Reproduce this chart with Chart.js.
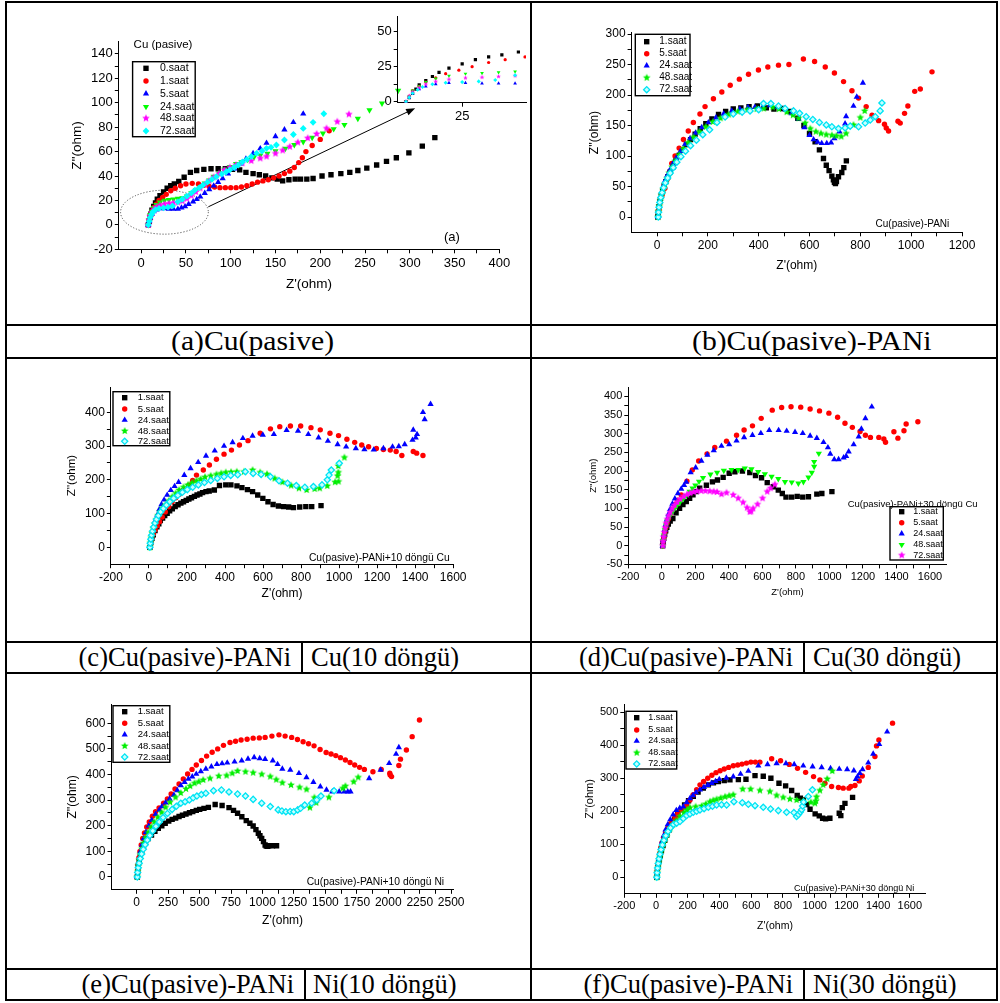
<!DOCTYPE html>
<html lang="tr">
<head>
<meta charset="UTF-8">
<title>Nyquist diyagramları</title>
<script src="https://cdn.jsdelivr.net/npm/chart.js"></script>
<style>
    body { margin: 0; width: 1000px; height: 1003px; position: relative; overflow: hidden; background: #fff; }
    canvas { position: absolute; }
    .ln { position: absolute; background: #000; z-index: 5; }
    .cap { position: absolute; font-family: "Liberation Serif", "Times New Roman", serif; font-size: 26.5px;
           white-space: nowrap; color: #000; z-index: 6; }
    .r1 { top: 326px; height: 31px; line-height: 31px; transform: scaleX(1.12); transform-origin: left center; }
    .r2 { top: 643px; height: 29px; line-height: 29px; }
    .r3 { top: 970px; height: 29px; line-height: 29px; }
    .ra { text-align: right; left: 0; }
</style>
</head>
<body>
<!-- table lines -->
<div class="ln" style="left:5px;top:1px;width:2px;height:1000px"></div>
<div class="ln" style="left:530px;top:1px;width:2px;height:1000px"></div>
<div class="ln" style="left:996px;top:1px;width:2px;height:1000px"></div>
<div class="ln" style="left:5px;top:1px;width:993px;height:2px"></div>
<div class="ln" style="left:5px;top:324px;width:993px;height:2px"></div>
<div class="ln" style="left:5px;top:357px;width:993px;height:2px"></div>
<div class="ln" style="left:5px;top:641px;width:993px;height:2px"></div>
<div class="ln" style="left:5px;top:672px;width:993px;height:2px"></div>
<div class="ln" style="left:5px;top:968px;width:993px;height:2px"></div>
<div class="ln" style="left:5px;top:999px;width:993px;height:2px"></div>
<div class="ln" style="left:301px;top:641px;width:2px;height:33px"></div>
<div class="ln" style="left:803px;top:641px;width:2px;height:33px"></div>
<div class="ln" style="left:304px;top:968px;width:2px;height:33px"></div>
<div class="ln" style="left:803px;top:968px;width:2px;height:33px"></div>

<!-- captions -->
<div class="cap r1" style="left:171px">(a)Cu(pasive)</div>
<div class="cap r1" style="left:692px">(b)Cu(pasive)-PANi</div>
<div class="cap r2 ra" style="width:291px">(c)Cu(pasive)-PANi</div>
<div class="cap r2" style="left:311px">Cu(10 döngü)</div>
<div class="cap r2 ra" style="width:793px">(d)Cu(pasive)-PANi</div>
<div class="cap r2" style="left:813px">Cu(30 döngü)</div>
<div class="cap r3 ra" style="width:294px">(e)Cu(pasive)-PANi</div>
<div class="cap r3" style="left:313px">Ni(10 döngü)</div>
<div class="cap r3 ra" style="width:793px">(f)Cu(pasive)-PANi</div>
<div class="cap r3" style="left:813px">Ni(30 döngü)</div>

<script>
// ---- data: [Z'(ohm), Z''(ohm)] ----
// (a) Cu (pasive)
const A_0 = [[8,0],[9,3],[10,6],[11,9],[12,12],[14,15],[16,18],[18,21],[21,24],[25,27],[29,30],[33,32],[37,33.5],[42,35.5],[48,39],[55,43],[62,44.5],[70,45.5],[78,46],[86,46],[94,46],[102,45.5],[110,45],[117,43],[125,42],[132,41],[139,40],[146,38.5],[152,37.5],[158,36],[165,37],[172,37.5],[178,37.5],[185,37.5],[192,38],[202,40],[212,41],[223,42],[233,43],[242,44.5],[252,46.5],[263,49],[274,52],[285,55],[299,59],[314,64.5],[328,71.5]];
const A_1 = [[8,0],[9,4],[10,8],[12,11],[14,14],[17,17],[20,20],[24,22.5],[28,25],[33,28],[38,30],[44,32],[50,33.5],[57,34],[64,33.5],[70,32.5],[76,31.5],[82,31],[88,30.5],[94,30.5],[100,30.5],[106,30.5],[112,31],[118,32],[124,33.5],[130,35],[136,36],[142,37],[148,38.5],[154,40],[160,42],[166,44],[171,47],[176,51],[180,55],[184,60],[191,65],[200,70],[210,77]];
const A_5 = [[8,0],[9,3],[10,6],[12,9],[14,11],[17,12.5],[21,13.5],[26,13.5],[31,13],[36,13],[41,13],[45,14],[49,15],[53,17],[58,19],[62,21],[66,23],[71,26],[76,29],[81,32],[86,35],[91,38],[97,42],[104,46],[111,50],[117,54],[125,58.5],[133,62.5],[140,67],[150,72.5],[160,78],[170,84],[181,91]];
const A_24 = [[8,0],[9,4],[10,8],[12,11],[14,14],[17,16.5],[21,18.5],[26,20],[31,20.5],[36,21],[41,21.5],[46,22],[51,23.5],[56,26],[61,28.5],[66,31],[71,34],[76,36.5],[81,39.5],[87,42.5],[93,45.5],[99,47.5],[106,50],[112,51.5],[119,53.5],[126,55.5],[133,57],[141,58.5],[150,60.5],[161,62.5],[171,65.5],[181,68],[191,71.5],[203,75],[215,78.5],[227,82],[242,87],[255,94],[269,99.5],[287,110]];
const A_48 = [[8,0],[9,4],[10,7],[12,10],[14,12.5],[17,14.5],[21,16],[26,17],[31,17.5],[36,18],[41,18.5],[46,19.5],[51,21.5],[56,24],[61,27],[66,30],[71,33],[76,36],[81,39],[87,42],[93,45],[99,47],[106,49],[113,50.5],[123,52.5],[133,54.5],[140,56],[150,58.5],[158,61],[166,64],[175,67.5],[186,71],[196,74.5],[207,79],[219,84.5],[232,90.5]];
const A_72 = [[8,0],[9,3],[10,6],[11.5,8.5],[13,10.5],[16,12.5],[20,13.5],[25,14],[30,14.5],[35,15.5],[41,18.9],[46,21],[51,23.5],[56,26],[60,28.5],[65,30.5],[69,32.6],[74,35],[79,37.2],[84,39.5],[90,41.6],[95,43.5],[99,45],[104,47],[108.5,49],[113,51.5],[118,53.6],[123,56],[129,58.6],[135,60.5],[140,62.7],[145,63.5],[151,65.4],[160,69.5],[170,74],[181,79],[192,84],[204,91]];

// (b) Cu(pasive)-PANi
const B_1 = [[3,0],[5,8],[8,17],[12,26],[17,35],[22,43],[28,51],[35,58],[43,66],[52,74],[62,82],[74,92],[87,101],[101,110],[116,119],[132,127],[150,136],[170,145],[192,153],[216,161],[242,168],[270,173],[300,177],[330,179],[362,181],[395,182],[430,179],[460,177],[495,178],[525,173],[554,162],[578,150],[600,137],[622,123.5],[639,110],[655,96],[666,85],[677,76],[688,67],[694,61],[698,57],[702,55],[706,58],[714,66],[727,73],[735,81],[745,92]];
const B_5 = [[5,0],[8,12],[13,24],[20,36],[31,47],[40,62],[49,74],[58,88],[71,100],[87,113],[104,127],[123,141],[143,155],[169,169],[189,181],[222,194],[255,205],[288,216],[324,226],[360,234],[399,241],[436,246],[478,249],[519,250],[576,259],[620,255],[662,246],[698,236],[734,222],[767,207],[793,195],[823,181],[846,167],[872,158],[895,152],[902,146],[911,141],[948,157],[957,154],[974,170],[987,182],[1014,206],[1036,210],[1082,238]];
const B_24 = [[4,0],[6,10],[9,20],[13,30],[18,40],[24,50],[31,59],[40,68],[50,77],[62,87],[76,97],[92,108],[110,119],[130,129],[152,138],[176,147],[202,155],[232,163],[262,169],[294,174],[326,177],[358,180],[385,180],[415,180],[445,183],[475,180],[505,176],[530,170],[557,161],[580,147],[600,134],[616,127],[632,123],[648,121],[668,121],[685,122],[698,129],[718,140],[740,153],[744,165],[773,182],[786,197],[810,220]];
const B_48 = [[4,0],[6,9],[9,18],[13,27],[18,36],[24,45],[31,54],[39,63],[48,72],[59,82],[72,92],[87,102],[104,112],[123,122],[144,131],[167,140],[192,148],[220,156],[250,162],[282,168],[318,173],[356,176],[392,177],[420,178],[455,180],[480,177],[510,172],[535,167],[557,162],[583,154],[603,145],[625,140],[645,137],[666,135],[688,134],[706,133],[725,132],[744,137],[773,151],[800,163],[817,174]];
const B_72 = [[5,0],[6,8],[8,16],[11,24],[15,32],[20,40],[26,48],[33,56],[42,64],[52,72],[64,81],[78,90],[94,99],[112,108],[132,117],[155,126],[180,135],[207,143],[236,155],[268,164],[300,169],[335,172],[366,174],[400,176],[419,186],[448,186],[478,182],[504,178],[537,174],[561,170],[587,164.5],[613,160],[639,155],[666,151],[688,148],[714,145],[740,146],[760,149],[793,148],[819,154],[839,159],[859,164.5],[878,174],[885,187]];

// (c) Cu(pasive)-PANi + 10 döngü Cu
const C_1 = [[5,0],[10,14],[16,27],[23,37],[32,50],[42,61],[52,70],[60,79],[72,87],[83,94],[96,101],[109,108],[123,114],[138,121],[153,126],[168,131],[182,135],[196,139],[210,143],[224,147],[239,151],[253,155],[268,158],[282,162],[300,165],[317,167],[344,170],[371,183],[404,185],[431,185],[463,182],[489,177],[518,171],[545,165],[572,155],[599,145],[626,135],[653,127],[681,122.5],[708,120.5],[735,119.5],[760,117.5],[793,119.5],[825,120.5],[856,120.5],[905,123.5]];
const C_5 = [[5,0],[10,14],[16,28],[24,40],[33,52],[44,64],[56,76],[70,90],[86,105],[104,120],[122,135],[141,147],[160,157],[182,170],[210,184],[230,198],[250,214],[286,229],[318,244],[355,261],[395,276],[434,288],[476,303],[521,316],[585,338],[639,351],[688,357.5],[744,359.5],[798,359.5],[852,354.6],[901,348],[952,338],[997,331],[1041,320],[1082,311],[1119,303],[1155,298],[1196,293],[1233,290],[1269,288],[1300,284],[1330,272],[1390,284],[1408,279],[1441,272]];
const C_24 = [[5,0],[9,16],[14,32],[20,48],[27,64],[35,80],[44,96],[54,112],[66,127],[80,141],[96,155],[115,169],[135,181],[156,193],[186,214],[219,234],[259,252],[300,271],[346,286],[395,300],[440,311],[494,323],[545,330],[599,333],[657,335],[724,347],[784,345],[838,335],[892,325],[941,315],[992,305],[1037,298],[1088,293],[1133,290],[1182,289],[1233,293],[1281,298],[1314,299],[1345,305],[1386,318],[1390,348],[1403,325],[1410,335],[1441,400],[1450,379],[1481,424]];
const C_48 = [[5,0],[8,14],[12,28],[17,42],[23,56],[30,69],[38,82],[47,94],[58,105],[71,116],[87,126],[105,138],[123,150],[141,160],[159,170],[182,178],[205,185],[227,191],[250,197],[272,202],[295,208],[325,212],[355,216],[380,219],[404,222],[432,223],[462,224],[500,224],[545,229],[585,222],[621,217],[661,204],[702,193],[748,183],[789,175],[829,170],[871,173],[898,175],[938,182],[979,193],[992,212],[997,195],[996,222],[996,241],[1028,266]];
const C_72 = [[5,0],[7,12],[10,24],[14,36],[19,48],[25,60],[32,72],[40,83],[50,94],[62,105],[76,115],[92,125],[110,135],[130,145],[152,154],[176,163],[202,171],[230,178],[260,185],[292,192],[325,198],[360,204],[395,209],[430,213],[467,215],[507,224],[548,219],[590,216],[639,209],[684,197],[729,190],[775,183],[820,178],[865,180],[910,185],[938,200],[947,214],[959,229],[1001,249]];

// (d) Cu(pasive)-PANi + 30 döngü Cu
const D_1 = [[5,0],[8,10],[12,20],[17,30],[23,40],[30,49],[39,58],[50,66],[66,73],[85,88],[106,100],[126,110],[146,118],[166,127],[186,136],[206,145],[226,154],[266,162],[302,171],[332,176],[366,183],[402,194],[436,198],[481,200],[525,196],[559,188],[595,182],[629,169],[665,158],[695,149],[719,140],[741,130],[775,130],[808,132],[841,130],[875,131],[925,138],[955,140],[1015,145]];
const D_5 = [[5,0],[8,12],[12,24],[17,36],[23,48],[30,60],[39,72],[50,85],[63,98],[78,110],[96,122],[116,136],[150,173],[182,203],[220,227],[270,246],[316,263],[386,280],[446,296],[491,310],[541,321],[593,341],[659,363],[715,370],[771,372],[829,371],[885,366],[941,361],[997,355],[1049,344],[1093,328],[1137,317],[1183,306],[1215,296],[1245,290],[1295,290],[1325,286],[1335,277],[1385,305],[1409,288],[1445,308],[1458,326],[1528,332]];
const D_24 = [[5,0],[8,14],[12,28],[17,42],[23,56],[30,70],[39,84],[50,98],[63,112],[78,126],[96,140],[116,152],[133,162],[146,171],[172,196],[202,209],[236,227],[272,243],[310,255],[356,267],[402,271],[446,281],[491,290],[541,296],[591,301],[641,309],[697,309],[745,307],[795,304],[841,301],[885,294],[925,288],[965,277],[991,263],[1005,246],[1029,231],[1055,231],[1085,236],[1100,240],[1115,252],[1145,271],[1175,292],[1191,313],[1215,341],[1253,372]];
const D_48 = [[5,0],[8,14],[12,28],[18,42],[25,55],[34,67],[45,78],[58,88],[72,97],[88,106],[106,115],[126,124],[146,134],[166,145],[183,154],[200,162],[222,172],[246,182],[290,191],[330,196],[370,201],[416,203],[456,203],[495,207],[535,205],[575,198],[615,192],[655,185],[695,179],[735,171],[775,170],[815,167],[845,171],[875,183],[895,196],[909,212],[909,225],[937,247]];
const D_72 = [[6,0],[8,12],[11,24],[15,36],[20,48],[26,60],[33,71],[41,81],[50,90],[62,100],[76,109],[92,117],[110,125],[130,132],[150,137],[170,141],[190,144],[210,146],[235,147],[260,147],[286,146],[310,145],[330,144],[356,138],[386,142],[426,136],[456,127],[485,116],[509,102],[525,91],[533,92],[545,100],[571,111],[601,127],[629,145],[649,154],[675,164]];

// (e) Cu(pasive)-PANi + 10 döngü Ni
const E_1 = [[5,0],[8,20],[13,40],[20,60],[29,80],[40,100],[54,120],[70,136],[92,150],[118,164],[145,178],[172,190],[200,200],[227,210],[255,218],[282,225],[310,230],[337,236],[364,241],[392,246],[420,251],[446,255],[474,260],[501,264],[535,268],[570,272],[624,283],[679,279],[734,271],[770,260],[802,249],[836,235],[871,220],[900,210],[926,199],[948,185],[967,171],[980,161],[994,151],[1008,138],[1021,125],[1030,121],[1040,120],[1049,122],[1080,122],[1112,122]];
const E_5 = [[5,0],[8,25],[12,50],[18,75],[26,100],[36,125],[48,150],[62,172],[80,195],[100,215],[125,237],[150,255],[178,270],[214,288],[244,305],[274,324],[305,344],[337,363],[371,383],[405,402],[440,420],[474,437],[515,455],[556,472],[600,487],[644,500],[690,514],[742,525],[786,530],[830,535],[878,538],[926,542],[975,543],[1021,545],[1075,550],[1131,555],[1180,550],[1232,545],[1278,537],[1323,528],[1366,520],[1410,512],[1458,498],[1506,486],[1545,480],[1583,474],[1620,466],[1659,457],[1696,447],[1733,437],[1772,428],[1810,420],[1878,411],[1944,420],[2012,405],[2015,398],[2026,392],[2084,435],[2097,460],[2144,496],[2190,548],[2248,613]];
const E_24 = [[5,0],[9,25],[14,50],[21,75],[30,100],[42,125],[56,150],[74,175],[96,200],[120,222],[150,245],[180,262],[200,275],[230,290],[262,305],[296,320],[323,338],[351,357],[381,370],[411,383],[442,392],[474,402],[510,412],[550,422],[594,431],[638,440],[679,443],[720,446],[778,450],[835,454],[885,461],[934,467],[978,463],[1021,460],[1082,454],[1120,440],[1158,422],[1221,418],[1290,405],[1350,389],[1405,370],[1460,353],[1509,340],[1555,333],[1610,333],[1650,333],[1678,333],[1700,333],[1848,385],[1939,418],[2007,444],[2062,480],[2084,506]];
const E_48 = [[5,0],[9,22],[14,44],[21,66],[30,88],[41,110],[55,132],[72,153],[92,174],[115,195],[140,215],[168,233],[198,252],[230,272],[265,292],[309,311],[350,328],[392,344],[425,355],[460,366],[494,372],[529,379],[583,385],[652,394],[715,396],[760,405],[802,414],[865,411],[926,407],[994,401],[1062,392],[1110,380],[1158,368],[1227,359],[1295,350],[1350,342],[1377,271],[1413,310],[1427,290],[1528,311],[1638,346],[1659,355],[1725,372],[1761,389]];
const E_72 = [[5,0],[8,18],[13,36],[20,54],[29,72],[40,90],[53,108],[68,126],[85,144],[105,162],[128,180],[153,198],[180,215],[210,232],[245,248],[282,264],[316,276],[351,288],[385,294],[419,301],[449,309],[479,316],[515,322],[550,327],[611,337],[674,340],[734,332],[802,324],[865,316],[926,303],[994,288],[1062,275],[1125,262],[1155,258],[1186,255],[1220,256],[1249,255],[1280,262],[1303,268],[1336,281],[1391,288],[1432,301],[1465,316],[1569,337]];

// (f) Cu(pasive)-PANi + 30 döngü Ni
const F_1 = [[5,0],[8,16],[13,32],[19,48],[26,64],[34,80],[44,96],[55,112],[68,128],[83,144],[99,160],[117,175],[137,190],[158,205],[180,219],[205,232],[235,245],[265,258],[298,270],[330,280],[362,286],[393,290],[430,293],[466,295],[519,296],[567,297],[624,308],[676,306],[724,300],[775,285],[817,277],[855,263],[890,248],[910,240],[928,234],[950,220],[971,206],[1003,192],[1029,186],[1050,179],[1069,177],[1096,179],[1155,194],[1165,187],[1174,211],[1191,224],[1239,242]];
const F_5 = [[5,0],[8,18],[12,36],[17,54],[23,72],[30,90],[38,105],[48,120],[60,135],[75,150],[90,162],[105,169],[120,181],[137,192],[160,205],[180,213],[193,219],[214,234],[235,250],[256,265],[277,280],[300,290],[326,300],[352,309],[378,317],[404,323],[430,328],[458,333],[487,338],[515,340],[542,343],[570,346],[598,349],[626,349],[655,349],[729,359],[785,353],[840,342],[892,330],[943,318],[993,305],[1033,295],[1065,285],[1107,275],[1150,272],[1180,270],[1216,270],[1228,275],[1254,278],[1281,292],[1300,307],[1338,333],[1380,366],[1390,398],[1405,416],[1491,467]];
const F_24 = [[5,0],[8,18],[12,36],[17,54],[23,72],[30,90],[38,108],[48,126],[60,144],[74,160],[90,175],[108,190],[128,203],[150,210],[172,214],[193,227],[214,239],[233,248],[252,257],[277,265],[302,273],[326,279],[351,285],[375,291],[399,297],[443,301],[487,305],[533,313],[582,322],[645,338],[703,342],[760,345],[819,345],[871,342],[928,338],[987,335],[1044,333],[1100,330],[1155,328],[1205,327],[1247,323],[1260,297],[1270,305],[1285,315],[1302,327],[1338,347],[1369,374],[1407,403],[1457,441]];
const F_48 = [[5,0],[8,15],[12,30],[17,45],[23,60],[30,75],[38,90],[48,105],[60,120],[74,135],[90,148],[108,160],[128,172],[150,185],[176,196],[195,204],[214,211],[250,214],[288,216],[314,222],[340,229],[361,233],[382,236],[408,240],[435,244],[461,247],[487,250],[546,267],[596,267],[655,263],[718,260],[760,248],[802,242],[844,237],[886,234],[928,231],[976,227],[1002,224],[1008,231],[1012,244],[1033,263],[1054,280],[1079,298],[1111,322]];
const F_72 = [[5,0],[7,14],[10,28],[14,42],[19,56],[25,70],[32,84],[40,98],[50,112],[62,126],[76,139],[92,150],[110,160],[130,164],[151,169],[172,178],[193,187],[214,192],[235,197],[256,200],[277,204],[303,208],[330,212],[356,215],[382,219],[413,220],[445,219],[491,229],[544,226],[582,221],[624,217],[676,212],[722,207],[771,202],[823,197],[869,196],[886,184],[898,190],[910,198],[918,205],[924,216],[930,228],[960,245],[986,265]];

// tick labels
const A_XT = [0, 50, 100, 150, 200, 250, 300, 350, 400];
const A_YT = [-20, 0, 20, 40, 60, 80, 100, 120, 140];
const INSET_XT = [25];
const INSET_YT = [0, 25, 50];
const B_XT = [0, 200, 400, 600, 800, 1000, 1200];
const B_YT = [0, 50, 100, 150, 200, 250, 300];
const C_XT = [-200, 0, 200, 400, 600, 800, 1000, 1200, 1400, 1600];
const C_YT = [0, 100, 200, 300, 400];
const D_XT = [-200, 0, 200, 400, 600, 800, 1000, 1200, 1400, 1600];
const D_YT = [-50, 0, 50, 100, 150, 200, 250, 300, 350, 400];
const E_XT = [0, 250, 500, 750, 1000, 1250, 1500, 1750, 2000, 2250, 2500];
const E_YT = [0, 100, 200, 300, 400, 500, 600];
const F_XT = [-200, 0, 200, 400, 600, 800, 1000, 1200, 1400, 1600];
const F_YT = [0, 100, 200, 300, 400, 500];

const FONT = '"Liberation Sans", Arial, Helvetica, sans-serif';

// filled five-point star used as a marker image
function starImg(color, r) {
    const s = Math.ceil(r * 2 + 2);
    const c = document.createElement('canvas');
    c.width = s; c.height = s;
    const g = c.getContext('2d');
    g.fillStyle = color;
    g.beginPath();
    for (let k = 0; k < 10; k++) {
        const rr = k % 2 ? r * 0.45 : r;
        const a = -Math.PI / 2 + k * Math.PI / 5;
        const px = s / 2 + rr * Math.cos(a), py = s / 2 + rr * Math.sin(a);
        if (k) g.lineTo(px, py); else g.moveTo(px, py);
    }
    g.closePath();
    g.fill();
    return c;
}

function mark(kind, color, k) {
    k = k || 1;
    const base = {pointBackgroundColor: color, pointBorderColor: color, pointBorderWidth: 0, pointRotation: 0};
    if (kind === 'sq') return Object.assign(base, {pointStyle: 'rect', pointRadius: 3.8 * k});
    if (kind === 'dot') return Object.assign(base, {pointStyle: 'circle', pointRadius: 2.7 * k});
    if (kind === 'up') return Object.assign(base, {pointStyle: 'triangle', pointRadius: 3.6 * k});
    if (kind === 'down') return Object.assign(base, {pointStyle: 'triangle', pointRadius: 3.6 * k, pointRotation: 180});
    if (kind === 'star') return Object.assign(base, {pointStyle: starImg(color, 4 * k), pointRadius: 3.4 * k});
    if (kind === 'dia') return Object.assign(base, {pointStyle: 'rectRot', pointRadius: 3.4 * k});
    // open cyan diamond
    return {pointStyle: 'rectRot', pointRadius: 3.1 * k, pointRotation: 0,
            pointBackgroundColor: '#c4ffff', pointBorderColor: '#00e4f4', pointBorderWidth: 1.3};
}

function axisCfg(a, pos, fix) {
    const majors = a.ticks;
    const all = majors.slice();
    for (let i = 0; i + 1 < majors.length; i++) all.push((majors[i] + majors[i + 1]) / 2);
    all.sort((u, v) => u - v);
    return {
        type: 'linear', position: pos, min: a.min, max: a.max,
        afterBuildTicks: s => { s.ticks = all.map(v => ({value: v})); },
        afterFit: fix,
        ticks: {autoSkip: false, maxRotation: 0, padding: 2, color: '#000',
                font: {family: FONT, size: a.size},
                callback: v => majors.includes(v) ? String(v) : ''},
        grid: {display: true, drawOnChartArea: false, drawTicks: true, tickLength: 4, color: '#000', lineWidth: 1},
        border: {display: true, color: '#000', width: 1},
        title: {display: !!a.title, text: a.title || '', color: '#000', padding: 0,
                font: {family: FONT, size: a.titleSize || 12}}
    };
}

// legend box, notes, ellipse and arrow
function overlay(p) {
    return {
        id: 'overlay',
        beforeDatasetsDraw(chart) {
            const ctx = chart.ctx, xs = chart.scales.x, ys = chart.scales.y;
            (p.shapes || []).forEach(s => {
                ctx.save();
                if (s.kind === 'ellipse') {
                    const cx = xs.getPixelForValue(s.cx), cy = ys.getPixelForValue(s.cy);
                    const rx = xs.getPixelForValue(s.cx + s.rx) - cx;
                    const ry = cy - ys.getPixelForValue(s.cy + s.ry);
                    ctx.setLineDash([1, 2]);
                    ctx.strokeStyle = '#333';
                    ctx.lineWidth = 1;
                    ctx.beginPath();
                    ctx.ellipse(cx, cy, rx, ry, 0, 0, Math.PI * 2);
                    ctx.stroke();
                } else if (s.kind === 'arrow') {
                    const x1 = xs.getPixelForValue(s.x1), y1 = ys.getPixelForValue(s.y1);
                    const x2 = xs.getPixelForValue(s.x2), y2 = ys.getPixelForValue(s.y2);
                    const ang = Math.atan2(y2 - y1, x2 - x1);
                    ctx.strokeStyle = '#000';
                    ctx.fillStyle = '#000';
                    ctx.lineWidth = 1;
                    ctx.beginPath();
                    ctx.moveTo(x1, y1);
                    ctx.lineTo(x2 - 6 * Math.cos(ang), y2 - 6 * Math.sin(ang));
                    ctx.stroke();
                    ctx.beginPath();
                    ctx.moveTo(x2, y2);
                    ctx.lineTo(x2 - 9 * Math.cos(ang) + 3.5 * Math.sin(ang), y2 - 9 * Math.sin(ang) - 3.5 * Math.cos(ang));
                    ctx.lineTo(x2 - 9 * Math.cos(ang) - 3.5 * Math.sin(ang), y2 - 9 * Math.sin(ang) + 3.5 * Math.cos(ang));
                    ctx.closePath();
                    ctx.fill();
                }
                ctx.restore();
            });
        },
        afterDraw(chart) {
            const ctx = chart.ctx, xs = chart.scales.x, ys = chart.scales.y;
            const lg = p.legend;
            if (lg) {
                const ox = p.box.x, oy = p.box.y;
                ctx.save();
                ctx.fillStyle = '#fff';
                ctx.fillRect(lg.x - ox, lg.y - oy, lg.w, lg.h);
                ctx.strokeStyle = '#000';
                ctx.lineWidth = 1.4;
                ctx.strokeRect(lg.x - ox, lg.y - oy, lg.w, lg.h);
                chart.data.datasets.forEach((ds, i) => {
                    const y = lg.rows[i] - oy;
                    ctx.fillStyle = ds.pointBackgroundColor;
                    ctx.strokeStyle = ds.pointBorderColor;
                    ctx.lineWidth = ds.pointBorderWidth;
                    Chart.helpers.drawPoint(ctx, {pointStyle: ds.pointStyle, radius: ds.pointRadius,
                        rotation: ds.pointRotation, borderWidth: ds.pointBorderWidth}, lg.mx - ox, y);
                    ctx.fillStyle = '#000';
                    ctx.font = lg.size + 'px ' + FONT;
                    ctx.textAlign = 'left';
                    ctx.textBaseline = 'middle';
                    ctx.fillText(ds.label, lg.tx - ox, y);
                });
                ctx.restore();
            }
            (p.notes || []).forEach(n => {
                ctx.save();
                ctx.fillStyle = '#000';
                ctx.font = n.size + 'px ' + FONT;
                ctx.textAlign = n.align || 'left';
                ctx.textBaseline = 'middle';
                ctx.fillText(n.text, xs.getPixelForValue(n.x), ys.getPixelForValue(n.y));
                ctx.restore();
            });
        }
    };
}

function buildPanel(p) {
    const cv = document.createElement('canvas');
    cv.width = p.box.w;
    cv.height = p.box.h;
    cv.style.left = p.box.x + 'px';
    cv.style.top = p.box.y + 'px';
    document.body.appendChild(cv);

    const L = p.plot.l - p.box.x, T = p.plot.t - p.box.y;
    const R = p.plot.r - p.box.x, B = p.plot.b - p.box.y;
    const xLh = (p.x.titleSize || 12) * 1.2, yLh = (p.y.titleSize || 12) * 1.2;
    const padL = p.y.title ? p.y.titleX - p.box.x - yLh / 2 : L - 30;
    const padB = p.x.title ? p.box.y + p.box.h - p.x.titleY - xLh / 2 : p.box.h - B - 22;
    const yW = L - padL, xH = p.box.h - padB - B;

    return new Chart(cv, {
        type: 'scatter',
        data: {
            datasets: p.series.map((s, i) => Object.assign({
                label: s.label,
                data: s.data.map(([x, y]) => ({x, y})),
                order: p.series.length - i
            }, s.mark))
        },
        options: {
            responsive: false,
            animation: false,
            events: [],
            layout: {padding: {left: padL, top: T, right: p.box.w - R, bottom: padB}},
            plugins: {legend: {display: false}, tooltip: {enabled: false}},
            scales: {
                x: axisCfg(p.x, 'bottom', s => { s.height = xH; }),
                y: axisCfg(p.y, 'left', s => { s.width = yW; })
            }
        },
        plugins: [overlay(p)]
    });
}

const XT = "Z'(ohm)", YT = "Z''(ohm)";

function cuSeries(k) {
    return [
        {label: '0.saat', data: A_0, mark: mark('sq', '#000000', k)},
        {label: '1.saat', data: A_1, mark: mark('dot', '#ff0000', k)},
        {label: '5.saat', data: A_5, mark: mark('up', '#0000ff', k)},
        {label: '24.saat', data: A_24, mark: mark('down', '#00ff00', k)},
        {label: '48.saat', data: A_48, mark: mark('star', '#ff00ff', k)},
        {label: '72.saat', data: A_72, mark: mark('dia', '#00ffff', k)}
    ];
}

function panSeries(d1, d5, d24, d48, d72) {
    return [
        {label: '1.saat', data: d1, mark: mark('sq', '#000000')},
        {label: '5.saat', data: d5, mark: mark('dot', '#ff0000')},
        {label: '24.saat', data: d24, mark: mark('up', '#0000ff')},
        {label: '48.saat', data: d48, mark: mark('star', '#00ee00')},
        {label: '72.saat', data: d72, mark: mark('odia')}
    ];
}

// (a) main plot
buildPanel({
    box: {x: 7, y: 3, w: 523, h: 321},
    plot: {l: 118.8, t: 41.7, r: 499.3, b: 249.3},
    x: {min: -25, max: 400, ticks: A_XT, size: 13, title: XT, titleSize: 13.5, titleY: 284},
    y: {min: -20, max: 150, ticks: A_YT, size: 13, title: YT, titleSize: 13.5, titleX: 77.5},
    series: cuSeries(1),
    legend: {x: 132.6, y: 61.7, w: 62.6, h: 75, rows: [68.3, 81, 93.7, 106.7, 118.3, 131], mx: 146, tx: 160, size: 10.5},
    notes: [
        {text: 'Cu (pasive)', x: -8.5, y: 147.4, size: 11.5},
        {text: '(a)', x: 347, y: -10.5, size: 13, align: 'center'}
    ],
    shapes: [
        {kind: 'ellipse', cx: 26, cy: 10.4, rx: 49, ry: 18},
        {kind: 'arrow', x1: 75, y1: 14.8, x2: 306, y2: 95.5}
    ]
});

// (a) inset: zoom on the low-frequency start
buildPanel({
    box: {x: 340, y: 3, w: 190, h: 130},
    plot: {l: 397.7, t: 16.7, r: 530, b: 102.7},
    x: {min: 5.5, max: 44.3, ticks: INSET_XT, size: 13},
    y: {min: -0.7, max: 60.7, ticks: INSET_YT, size: 13},
    series: cuSeries(0.6)
});

// (b)
buildPanel({
    box: {x: 532, y: 3, w: 464, h: 321},
    plot: {l: 631.6, t: 32.8, r: 962, b: 232.3},
    x: {min: -100, max: 1200, ticks: B_XT, size: 12, title: XT, titleSize: 12, titleY: 265.7},
    y: {min: -25, max: 302, ticks: B_YT, size: 12, title: YT, titleSize: 12, titleX: 595},
    series: panSeries(B_1, B_5, B_24, B_48, B_72),
    legend: {x: 635.3, y: 34.3, w: 54.7, h: 61.4, rows: [41.7, 53.7, 65.7, 77.7, 89.7], mx: 646.7, tx: 659.3, size: 10},
    notes: [{text: 'Cu(pasive)-PANi', x: 1150, y: -11.5, size: 10, align: 'right'}]
});

// (c)
buildPanel({
    box: {x: 7, y: 359, w: 523, h: 282},
    plot: {l: 110.9, t: 387, r: 453.2, b: 564.2},
    x: {min: -200, max: 1600, ticks: C_XT, size: 12, title: XT, titleSize: 12, titleY: 594},
    y: {min: -50, max: 475, ticks: C_YT, size: 12, title: YT, titleSize: 11.5, titleX: 72.3},
    series: panSeries(C_1, C_5, C_24, C_48, C_72),
    legend: {x: 113, y: 391.7, w: 56.8, h: 54, rows: [397.7, 409, 420, 431, 441.3], mx: 124.7, tx: 137.7, size: 9.5},
    notes: [{text: 'Cu(pasive)-PANi+10 döngü Cu', x: 1582, y: -31, size: 10.3, align: 'right'}]
});

// (d)
buildPanel({
    box: {x: 532, y: 359, w: 464, h: 282},
    plot: {l: 628.3, t: 387, r: 946.7, b: 564.4},
    x: {min: -200, max: 1700, ticks: D_XT, size: 11, title: XT, titleSize: 9.5, titleY: 592.7},
    y: {min: -50, max: 425, ticks: D_YT, size: 11, title: YT, titleSize: 9.5, titleX: 593.3},
    series: [
        {label: '1.saat', data: D_1, mark: mark('sq', '#000000')},
        {label: '5.saat', data: D_5, mark: mark('dot', '#ff0000')},
        {label: '24.saat', data: D_24, mark: mark('up', '#0000ff')},
        {label: '48.saat', data: D_48, mark: mark('down', '#00ff00')},
        {label: '72.saat', data: D_72, mark: mark('star', '#ff00ff')}
    ],
    legend: {x: 890, y: 506.7, w: 53.3, h: 53.3, rows: [511.7, 522.7, 533.7, 544.7, 555.3], mx: 901.7, tx: 913.3, size: 9},
    notes: [{text: 'Cu(pasive)-PANi+30 döngü Cu', x: 1109, y: 111.7, size: 9.5}]
});

// (e)
buildPanel({
    box: {x: 7, y: 674, w: 523, h: 294},
    plot: {l: 111.5, t: 704.1, r: 453.7, b: 889.8},
    x: {min: -200, max: 2520, ticks: E_XT, size: 12, title: XT, titleSize: 12, titleY: 920.7},
    y: {min: -50, max: 675, ticks: E_YT, size: 12, title: YT, titleSize: 12, titleX: 72.3},
    series: panSeries(E_1, E_5, E_24, E_48, E_72),
    legend: {x: 113, y: 705.7, w: 56.8, h: 56.6, rows: [711.7, 723.3, 734.7, 746, 757], mx: 124.7, tx: 137.7, size: 9.5},
    notes: [{text: 'Cu(pasive)-PANi+10 döngü Ni', x: 2444, y: -18.4, size: 10.3, align: 'right'}]
});

// (f)
buildPanel({
    box: {x: 532, y: 674, w: 464, h: 294},
    plot: {l: 624.3, t: 704, r: 925.7, b: 893.8},
    x: {min: -200, max: 1700, ticks: F_XT, size: 11, title: XT, titleSize: 10.5, titleY: 926},
    y: {min: -50, max: 525, ticks: F_YT, size: 11, title: YT, titleSize: 11, titleX: 590},
    series: panSeries(F_1, F_5, F_24, F_48, F_72),
    legend: {x: 626, y: 711.3, w: 50.7, h: 57.7, rows: [717.7, 730, 741, 752.7, 764], mx: 636.7, tx: 648.3, size: 9},
    notes: [{text: 'Cu(pasive)-PANi+30 döngü Ni', x: 1627.6, y: -33.3, size: 9, align: 'right'}]
});
</script>
</body>
</html>
